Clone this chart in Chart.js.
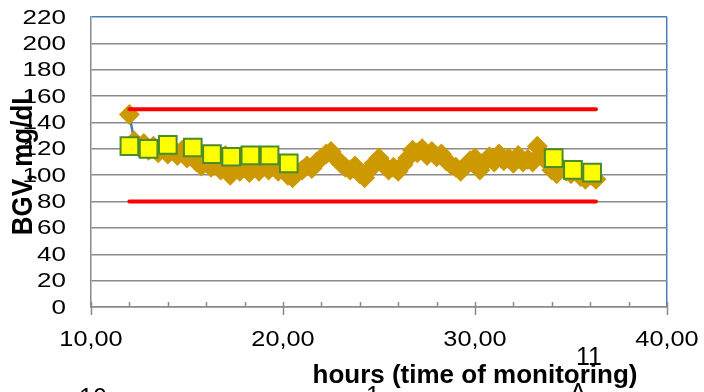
<!DOCTYPE html>
<html>
<head>
<meta charset="utf-8">
<script src="https://cdn.jsdelivr.net/npm/chart.js@4"></script>
<style>
  html, body { margin: 0; padding: 0; background: #fff; }
  canvas { display: block; }
</style>
</head>
<body>
<canvas id="grafico" width="704" height="392"></canvas>
<script>
// BGV readings (diamonds), every 15 min
const horas = [
  12, 12.25, 12.5, 12.75, 13, 13.25, 13.5, 13.75,
  14, 14.25, 14.5, 14.75, 15, 15.25, 15.5, 15.75,
  16, 16.25, 16.5, 16.75, 17, 17.25, 17.5, 17.75,
  18, 18.25, 18.5, 18.75, 19, 19.25, 19.5, 19.75,
  20, 20.25, 20.5, 20.75, 21, 21.25, 21.5, 21.75,
  22, 22.25, 22.5, 22.75, 23, 23.25, 23.5, 23.75,
  24, 24.25, 24.5, 24.75, 25, 25.25, 25.5, 25.75,
  26, 26.25, 26.5, 26.75, 27, 27.25, 27.5, 27.75,
  28, 28.25, 28.5, 28.75, 29, 29.25, 29.5, 29.75,
  30, 30.25, 30.5, 30.75, 31, 31.25, 31.5, 31.75,
  32, 32.25, 32.5, 32.75, 33, 33.25, 33.5, 33.75,
  34, 34.25, 34.5, 34.75, 35, 35.25, 35.5, 35.75,
  36, 36.3
]
const bgv = [
  146, 126, 121, 124, 119, 122, 117, 121,
  116, 120, 115, 119, 113, 116, 110, 107,
  111, 106, 110, 104, 115, 100, 106, 103,
  108, 102, 107, 103, 108, 104, 109, 103,
  106, 100, 98, 102, 104, 107, 105, 110,
  113, 116, 118, 113, 109, 106, 104, 107,
  101, 98, 104, 109, 113, 108, 104, 106,
  103, 108, 113, 119, 117, 120, 115, 118,
  114, 116, 111, 108, 106, 103, 107, 111,
  113, 104, 110, 114, 110, 116, 111, 113,
  109, 115, 110, 112, 110, 122, 115, 110,
  104, 101, 106, 103, 101, 104, 99, 97,
  100, 97
]

// lab reference values (squares)
const horasRef = [12, 13, 14, 15.3, 16.3, 17.3, 18.3, 19.3, 20.3, 34.1, 35.1, 36.1]
const bgvRef = [122, 120, 123, 121, 116, 114, 115, 115, 109, 113, 104, 102]

// target range
const limiteInf = 80
const limiteSup = 150
const faixaHoras = [12, 36.3]

const yTicks = [0, 20, 40, 60, 80, 100, 120, 140, 160, 180, 200, 220]
const xTickLabels = ["10,00", "20,00", "30,00", "40,00"]
const tituloX = "hours (time of monitoring)"
const tituloY = "BGV, mg/dL"
const soltos = ["10", "1", "11", "\u039B"]

const azul = "#4A7EBB"
const cinza = "#8A8A8A"

const pontos = horas.map((h, i) => ({ x: h, y: bgv[i] }))
const pontosRef = horasRef.map((h, i) => ({ x: h, y: bgvRef[i] }))
const linha = v => faixaHoras.map(h => ({ x: h, y: v }))

const textos = {
    id: "textos",
    afterDraw(chart) {
        const ctx = chart.ctx
        const xs = chart.scales.x
        const ys = chart.scales.y
        ctx.save()
        ctx.fillStyle = "#000"

        // x tick marks: minor every 2h inside, major crossing
        ctx.strokeStyle = cinza
        ctx.lineWidth = 1.5
        const base = ys.getPixelForValue(0)
        for (let v = 10; v <= 40; v += 2) {
            const px = Math.round(xs.getPixelForValue(v)) + 0.5
            const major = v % 10 === 0
            ctx.beginPath()
            ctx.moveTo(px, base - 5)
            ctx.lineTo(px, major ? base + 8 : base)
            ctx.stroke()
        }

        // y labels
        ctx.font = '20px "Liberation Sans", Arial, sans-serif'
        ctx.textAlign = "right"
        ctx.textBaseline = "middle"
        yTicks.forEach(v => {
            ctx.save()
            ctx.translate(66, ys.getPixelForValue(v) + 1)
            ctx.scale(1.3, 1)
            ctx.fillText(String(v), 0, 0)
            ctx.restore()
        })

        // x labels
        ctx.font = '22px "Liberation Sans", Arial, sans-serif'
        ctx.textAlign = "center"
        ctx.textBaseline = "alphabetic"
        xTickLabels.forEach((t, i) => {
            ctx.save()
            ctx.translate(xs.getPixelForValue(10 + i * 10), 346)
            ctx.scale(1.15, 1)
            ctx.fillText(t, 0, 0)
            ctx.restore()
        })

        // axis titles
        ctx.font = 'bold 26px "Liberation Sans", Arial, sans-serif'
        ctx.fillText(tituloX, 475, 383)
        ctx.save()
        ctx.translate(31.5, 162)
        ctx.rotate(-Math.PI / 2)
        ctx.scale(1, 1.15)
        ctx.fillText(tituloY, 0, 0)
        ctx.restore()

        // stray labels
        ctx.font = '25px "Liberation Sans", Arial, sans-serif'
        ctx.fillText(soltos[0], 93, 406)
        ctx.fillText(soltos[1], 373, 404)
        ctx.fillText(soltos[2], 589, 365)
        ctx.fillText(soltos[3], 578, 401)
        ctx.restore()
    }
}

new Chart(document.getElementById("grafico"), {
    type: "scatter",
    data: {
        datasets: [
            {
                data: linha(limiteSup),
                showLine: true,
                borderColor: "#FF0000",
                borderWidth: 4,
                borderCapStyle: "round",
                pointRadius: 0,
                order: 0
            },
            {
                data: linha(limiteInf),
                showLine: true,
                borderColor: "#FF0000",
                borderWidth: 4,
                borderCapStyle: "round",
                pointRadius: 0,
                order: 0
            },
            {
                data: pontosRef,
                pointStyle: "rect",
                pointRadius: 12.5,
                pointBackgroundColor: "#FFFF00",
                pointBorderColor: "#4A8C2A",
                pointBorderWidth: 2,
                order: 1
            },
            {
                data: pontos,
                showLine: true,
                borderColor: azul,
                borderWidth: 2.5,
                pointStyle: "rectRot",
                pointRadius: 10.5,
                pointBackgroundColor: "#CC9900",
                pointBorderColor: "#CC9900",
                pointBorderWidth: 0,
                order: 2
            }
        ]
    },
    options: {
        responsive: false,
        animation: false,
        layout: { padding: { left: 91, top: 17, right: 37, bottom: 85 } },
        plugins: {
            legend: { display: false },
            tooltip: { enabled: false }
        },
        scales: {
            x: {
                type: "linear",
                min: 10,
                max: 40,
                ticks: { display: false, stepSize: 10 },
                grid: {
                    drawTicks: false,
                    lineWidth: 1.5,
                    color: c => c.tick && c.tick.value === 40 ? azul : "rgba(0,0,0,0)"
                },
                border: { color: cinza, width: 1.5 }
            },
            y: {
                min: 0,
                max: 220,
                ticks: { display: false, stepSize: 20 },
                grid: {
                    drawTicks: false,
                    lineWidth: 1.5,
                    color: c => c.tick && c.tick.value === 220 ? azul : cinza
                },
                border: { color: cinza, width: 1.5 }
            }
        }
    },
    plugins: [textos]
})
</script>
</body>
</html>
